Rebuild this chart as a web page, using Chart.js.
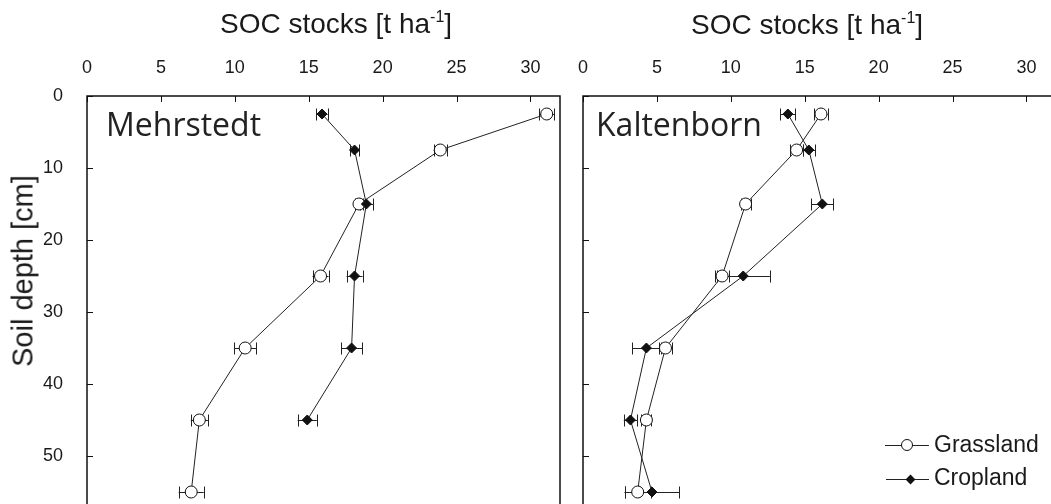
<!DOCTYPE html>
<html>
<head>
<meta charset="utf-8">
<script src="https://cdn.jsdelivr.net/npm/chart.js@4.4.1/dist/chart.umd.min.js"></script>
<style>
  body { margin: 0; background: #fff; overflow: hidden; width: 1051px; height: 504px; position: relative;
         font-family: "Liberation Sans", Arial, sans-serif; color: #1a1a1a; }
  canvas { position: absolute; top: 0; }
  .title { position: absolute; font-size: 28px; line-height: 28px; white-space: nowrap; }
  .title sup { font-size: 16px; line-height: 0; vertical-align: 11px; }
  .ytitle { position: absolute; left: 23px; top: 271px; font-size: 29px; line-height: 29px; white-space: nowrap;
            transform: translate(-50%, -50%) rotate(-90deg); }
  .site { position: absolute; font-family: "Open Sans", sans-serif; font-size: 32px; line-height: 32px; color: #222; }
  .leg { position: absolute; font-size: 23px; line-height: 23px; white-space: nowrap; }
  .legline { position: absolute; height: 1px; background: #222; }
  .legcircle { position: absolute; width: 12px; height: 12px; box-sizing: border-box; border: 1px solid #111;
               border-radius: 50%; background: #fff; }
  .legdiamond { position: absolute; width: 7px; height: 7px; background: #111; transform: rotate(45deg); }
</style>
</head>
<body>
<canvas id="mehrChart" width="580" height="540" style="left:0"></canvas>
<canvas id="kaltChart" width="560" height="540" style="left:520px"></canvas>

<div class="title" style="left:220px; top:10px">SOC stocks [t ha<sup>-1</sup>]</div>
<div class="title" style="left:691px; top:11px">SOC stocks [t ha<sup>-1</sup>]</div>
<div class="ytitle">Soil depth [cm]</div>
<div class="site" style="left:106px; top:108px">Mehrstedt</div>
<div class="site" style="left:596px; top:108px">Kaltenborn</div>

<div class="legline" style="left:885px; top:445px; width:44px"></div>
<div class="legcircle" style="left:901px; top:439px"></div>
<div class="leg" style="left:934px; top:433px">Grassland</div>
<div class="legline" style="left:886px; top:479px; width:43px"></div>
<div class="legdiamond" style="left:907px; top:476px"></div>
<div class="leg" style="left:934px; top:466px">Cropland</div>

<script>
// depth of each sampled layer (mid point), cm
const depthCm = [2.5, 7.5, 15, 25, 35, 45, 55];
const socTicks = [0, 5, 10, 15, 20, 25, 30];
const depthTicks = [0, 10, 20, 30, 40, 50];

// Mehrstedt, SOC stocks t/ha with +- error
const mehrGrass = [31.1, 23.9, 18.4, 15.8, 10.7, 7.6, 7.05];
const mehrGrassErr = [0.5, 0.45, 0.3, 0.54, 0.75, 0.58, 0.85];
const mehrCrop = [15.9, 18.1, 18.9, 18.1, 17.9, 14.9];
const mehrCropErr = [0.38, 0.3, 0.45, 0.54, 0.71, 0.65];

// Kaltenborn
const kaltGrass = [16.1, 14.45, 11.0, 9.41, 5.58, 4.29, 3.7];
const kaltGrassErr = [0.45, 0.45, 0.34, 0.45, 0.45, 0.34, 0.88];
const kaltCrop = [13.86, 15.28, 16.19, 10.84, 4.29, 3.21, 4.67];
const kaltCropErr = [0.5, 0.42, 0.75, 1.8, 0.96, 0.45, 1.85];

Chart.defaults.font.family = '"Liberation Sans", Arial, sans-serif';
Chart.defaults.font.size = 18;
Chart.defaults.color = '#1a1a1a';

const tickFont = { family: '"Liberation Sans", Arial, sans-serif', size: 18 };

function toPoints(values) {
    return values.map((v, i) => ({ x: v, y: depthCm[i] }));
}

// chart.js adds room for overflowing end labels, we don't want that here
function noLabelPadding(scale) {
    scale.paddingLeft = 0;
    scale.paddingRight = 0;
    scale.paddingTop = 0;
    scale.paddingBottom = 0;
}

// horizontal error bars, drawn under the markers
const errorBarPlugin = {
    id: 'errorBars',
    beforeDatasetsDraw(chart) {
        const { ctx, scales: { x, y } } = chart;
        ctx.save();
        ctx.strokeStyle = '#222';
        ctx.lineWidth = 1;
        chart.data.datasets.forEach(ds => {
            ds.data.forEach((p, i) => {
                const e = ds.xErr[i];
                const x1 = x.getPixelForValue(p.x - e);
                const x2 = x.getPixelForValue(p.x + e);
                const py = Math.round(y.getPixelForValue(p.y)) + 0.5;
                ctx.beginPath();
                ctx.moveTo(x1, py); ctx.lineTo(x2, py);
                ctx.moveTo(Math.round(x1) + 0.5, py - 6); ctx.lineTo(Math.round(x1) + 0.5, py + 6);
                ctx.moveTo(Math.round(x2) + 0.5, py - 6); ctx.lineTo(Math.round(x2) + 0.5, py + 6);
                ctx.stroke();
            });
        });
        ctx.restore();
    }
};

// box around plot + inward tick marks
const framePlugin = {
    id: 'frame',
    afterDraw(chart) {
        const { ctx, chartArea: a, scales: { x, y } } = chart;
        ctx.save();
        ctx.strokeStyle = '#111';
        ctx.lineWidth = 1;
        ctx.beginPath();
        x.ticks.forEach(t => {
            const px = Math.round(x.getPixelForValue(t.value)) + 0.5;
            ctx.moveTo(px, a.top); ctx.lineTo(px, a.top + 6);
        });
        y.ticks.forEach(t => {
            const py = Math.round(y.getPixelForValue(t.value)) + 0.5;
            ctx.moveTo(a.left, py); ctx.lineTo(a.left + 6, py);
        });
        ctx.stroke();
        ctx.lineWidth = 1.5;
        ctx.strokeRect(a.left, a.top, a.right - a.left, a.bottom - a.top);
        ctx.restore();
    }
};

function makePanel(canvasId, grass, grassErr, crop, cropErr, axisWidth, padRight, showDepthLabels) {
    const ctx = document.getElementById(canvasId).getContext('2d');
    return new Chart(ctx, {
        type: 'scatter',
        data: {
            datasets: [
                {
                    label: 'Cropland',
                    data: toPoints(crop),
                    xErr: cropErr,
                    showLine: true,
                    borderColor: '#222',
                    borderWidth: 1,
                    pointStyle: 'rectRot',
                    pointRadius: 5,
                    pointBackgroundColor: '#111',
                    pointBorderColor: '#111',
                    pointBorderWidth: 1
                },
                {
                    label: 'Grassland',
                    data: toPoints(grass),
                    xErr: grassErr,
                    showLine: true,
                    borderColor: '#222',
                    borderWidth: 1,
                    pointStyle: 'circle',
                    pointRadius: 6,
                    pointBackgroundColor: '#fff',
                    pointBorderColor: '#111',
                    pointBorderWidth: 1
                }
            ]
        },
        options: {
            responsive: false,
            animation: false,
            layout: { autoPadding: false, padding: { left: 0, top: 0, right: padRight, bottom: 12 } },
            plugins: { legend: { display: false }, tooltip: { enabled: false } },
            scales: {
                x: {
                    type: 'linear',
                    position: 'top',
                    min: 0,
                    max: 32,
                    grid: { display: false },
                    border: { display: false },
                    ticks: { padding: 9, color: '#1a1a1a', font: tickFont },
                    afterBuildTicks: scale => { scale.ticks = socTicks.map(v => ({ value: v })); },
                    afterFit: scale => { scale.height = 96; noLabelPadding(scale); }
                },
                y: {
                    type: 'linear',
                    reverse: true,
                    min: 0,
                    max: 60,
                    grid: { display: false },
                    border: { display: false },
                    ticks: { display: showDepthLabels, padding: 16, color: '#1a1a1a', font: tickFont },
                    afterBuildTicks: scale => { scale.ticks = depthTicks.map(v => ({ value: v })); },
                    afterFit: scale => { scale.width = axisWidth; noLabelPadding(scale); }
                }
            }
        },
        plugins: [errorBarPlugin, framePlugin]
    });
}

makePanel('mehrChart', mehrGrass, mehrGrassErr, mehrCrop, mehrCropErr, 87, 20, true);
makePanel('kaltChart', kaltGrass, kaltGrassErr, kaltCrop, kaltCropErr, 63, 24, false);
</script>
</body>
</html>
